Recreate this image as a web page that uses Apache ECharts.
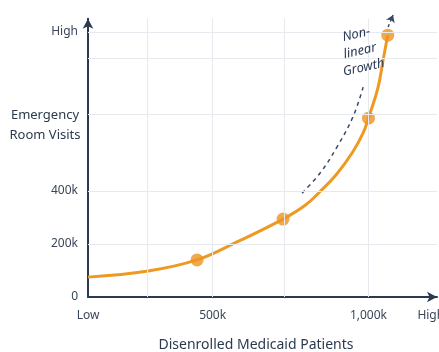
<!DOCTYPE html>
<html><head><meta charset="utf-8">
<script src="https://cdn.jsdelivr.net/npm/echarts@6/dist/echarts.min.js"></script>
<style>html,body{margin:0;background:#fff}#c{width:439px;height:352px}</style>
</head><body><div id="c"></div><script>
// Curve of ER visits (k) against disenrolled patients (k)
const curveX = [100, 293, 450, 572, 726, 796, 845, 899, 950, 983, 1000, 1031, 1047, 1062];
const curveY = [75, 98, 140, 204, 294, 345, 398, 465, 548, 619, 675, 792, 894, 988];
// Highlighted points on the curve
const markerX = [450, 726, 1000, 1062];
const markerY = [140, 294, 675, 988];
// Axis labels
const xTickValues = [100, 500, 1000, 1200];
const xTickLabels = ['Low', '500k', '1,000k', 'High'];
const yTickValues = [0, 200, 400, 1000];
const yTickLabels = ['0', '200k', '400k', 'High'];
// Light reference grid
const xGridValues = [290, 500, 730, 1000];
const yGridValues = [200, 400, 690, 900, 1000];
// Dashed trend hint and its arrow tip
const trendX = [787, 845, 899, 950, 983];
const trendY = [392, 468, 566, 679, 792];
const arrowX = [1063, 1079];
const arrowY = [1019, 1064];

const FONT = 'Noto Sans';
const INK = '#2B3A4F';
const ORANGE = '#EE9A22';

const zip = (a, b) => a.map((v, i) => [v, b[i]]);

const chart = echarts.init(document.getElementById('c'), null, {renderer: 'canvas'});
chart.setOption({
  backgroundColor: '#ffffff',
  animation: false,
  grid: {left: 88, right: 2, top: 18.75, bottom: 55, containLabel: false, outerBoundsMode: 'none'},
  xAxis: {
    type: 'value', min: 100, max: 1220,
    axisLine: {show: true, lineStyle: {color: INK, width: 2}, symbol: ['none', 'arrow'], symbolSize: [8, 10]},
    axisTick: {show: false},
    splitLine: {show: false},
    axisLabel: {
      customValues: xTickValues,
      formatter: v => xTickLabels[xTickValues.indexOf(v)],
      color: '#3A4658', fontFamily: FONT, fontSize: 12, margin: 13
    }
  },
  yAxis: {
    type: 'value', min: 0, max: 1050,
    axisLine: {show: true, lineStyle: {color: INK, width: 2}, symbol: ['none', 'arrow'], symbolSize: [8, 10]},
    axisTick: {show: false},
    splitLine: {show: false},
    axisLabel: {
      customValues: yTickValues,
      formatter: v => yTickLabels[yTickValues.indexOf(v)],
      color: '#3A4658', fontFamily: FONT, fontSize: 12, margin: 10
    }
  },
  graphic: [
    {type: 'text', x: 45, y: 125, style: {text: 'Emergency\nRoom Visits', fill: INK, font: '13px "Noto Sans"', align: 'center', verticalAlign: 'middle', lineHeight: 20}, z: 10},
    {type: 'text', x: 256, y: 345, style: {text: 'Disenrolled Medicaid Patients', fill: INK, font: '14px "Noto Sans"', align: 'center', verticalAlign: 'middle'}, z: 10},
    {type: 'text', x: 360, y: 51, rotation: 0.22, style: {text: 'Non-\nlinear\nGrowth', fill: '#2B3A55', font: 'italic 13px "Noto Sans"', align: 'center', verticalAlign: 'middle', lineHeight: 17}, z: 10}
  ],
  series: [
    {
      type: 'line', data: [], silent: true,
      markLine: {
        silent: true, symbol: 'none', label: {show: false},
        lineStyle: {color: '#E6EAEF', width: 1, type: 'solid'},
        data: xGridValues.map(v => ({xAxis: v})).concat(yGridValues.map(v => ({yAxis: v})))
      }
    },
    {
      type: 'line', data: zip(curveX, curveY), smooth: 0.4,
      showSymbol: false, lineStyle: {color: ORANGE, width: 3}, z: 3
    },
    {
      type: 'scatter', data: zip(markerX, markerY), symbolSize: 13,
      itemStyle: {color: '#EC9420'}, z: 4
    },
    {
      type: 'line', data: zip(trendX, trendY), smooth: 0.4, showSymbol: false, clip: false,
      lineStyle: {color: '#3A4A66', width: 1.5, type: [4, 4]}, z: 2
    },
    {
      type: 'lines', coordinateSystem: 'cartesian2d', clip: false,
      symbol: ['none', 'arrow'], symbolSize: 7,
      lineStyle: {color: '#3A4A66', width: 1.5, type: [3, 3], opacity: 1},
      data: [{coords: zip(arrowX, arrowY)}], z: 2
    }
  ]
});
</script></body></html>
